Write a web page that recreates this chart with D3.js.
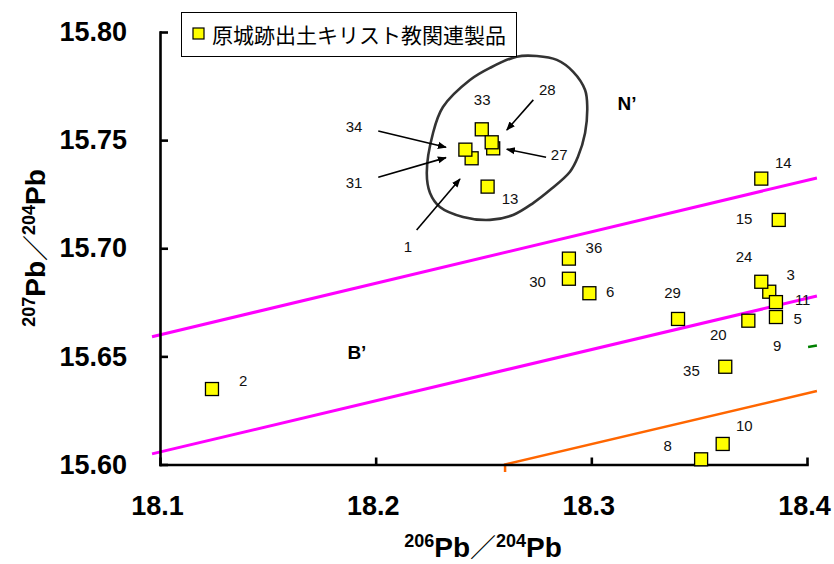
<!DOCTYPE html>
<html><head><meta charset="utf-8">
<script src="https://cdn.jsdelivr.net/npm/d3@7"></script>
<style>body{margin:0;background:#fff}svg{display:block}</style>
</head><body>
<svg id="c" width="834" height="564"></svg>
<script>
// ---- data ----
const xTicks = [18.1, 18.2, 18.3, 18.4];
const yTicks = [15.60, 15.65, 15.70, 15.75, 15.80];
const sampleIds = ["2","31","34","33","27","28","13","14","15","36","30","6","3","24","11","5","29","20","35","10","8"];
const pb206_204 = [18.1241,18.2445,18.2416,18.2492,18.2545,18.2538,18.2519,18.3788,18.3869,18.2896,18.2896,18.2991,18.3825,18.3788,18.3856,18.3856,18.3402,18.3728,18.3621,18.3609,18.3509];
const pb207_204 = [15.6349,15.7416,15.7456,15.7550,15.7462,15.7490,15.7285,15.7322,15.7131,15.6952,15.6859,15.6792,15.6799,15.6845,15.6751,15.6682,15.6673,15.6665,15.6452,15.6095,15.6024];
const legendLabel = "原城跡出土キリスト教関連製品";
// point-number labels (data coordinates)
const labelText = ["34","31","33","28","27","13","1","14","15","36","30","6","24","3","11","5","29","20","9","35","10","8","2"];
const labelX = [18.1900,18.1900,18.2494,18.2796,18.2851,18.2623,18.2150,18.3890,18.3708,18.3012,18.2751,18.3087,18.3708,18.3924,18.3980,18.3957,18.3377,18.3589,18.3862,18.3464,18.3709,18.3354,18.1386];
const labelY = [15.7562,15.7303,15.7686,15.7732,15.7431,15.7228,15.7006,15.7396,15.7138,15.7004,15.6844,15.6799,15.6961,15.6876,15.6761,15.6676,15.6794,15.6599,15.6548,15.6434,15.6178,15.6086,15.6386];
// region labels
const regionText = ["N’","B’"];
const regionX = [18.3165, 18.1913];
const regionY = [15.7672, 15.6520];
// arrows [x1,y1,x2,y2]
const arrowX1 = [18.2190,18.2012,18.2012,18.2731,18.2790];
const arrowY1 = [15.7084,15.7542,15.7328,15.7686,15.7421];
const arrowX2 = [18.2391,18.2326,18.2326,18.2608,18.2608];
const arrowY2 = [15.7320,15.7467,15.7419,15.7547,15.7458];
// N' field outline
const blobX = [18.2530,18.2654,18.2747,18.2840,18.2916,18.2971,18.2981,18.2971,18.2938,18.2901,18.2808,18.2730,18.2637,18.2530,18.2405,18.2298,18.2252,18.2237,18.2266,18.2312,18.2437];
const blobY = [15.7834,15.7886,15.7889,15.7871,15.7816,15.7732,15.7655,15.7533,15.7423,15.7354,15.7269,15.7209,15.7154,15.7131,15.7145,15.7191,15.7256,15.7348,15.7533,15.7653,15.7778];
// reference lines
const magentaUpperX = [18.0963, 18.4046], magentaUpperY = [15.6591, 15.7325];
const magentaLowerX = [18.0963, 18.4046], magentaLowerY = [15.6049, 15.6779];
const orangeX = [18.2600, 18.2600, 18.4046], orangeY = [15.5965, 15.6000, 15.6340];
const greenX = [18.4005, 18.4046], greenY = [15.6543, 15.6550];

// ---- chart ----
const svg = d3.select("#c");
const x = d3.scaleLinear().domain([18.1, 18.4]).range([160, 807]);
const y = d3.scaleLinear().domain([15.6, 15.8]).range([464.5, 32]);
const line = d3.line().x(d => x(d[0])).y(d => y(d[1]));
const zip = (a, b) => a.map((v, i) => [v, b[i]]);

// reference lines
svg.append("path").attr("d", line(zip(magentaUpperX, magentaUpperY))).attr("stroke", "#ff00ff").attr("stroke-width", 3).attr("fill", "none");
svg.append("path").attr("d", line(zip(magentaLowerX, magentaLowerY))).attr("stroke", "#ff00ff").attr("stroke-width", 3).attr("fill", "none");
svg.append("path").attr("d", line(zip(orangeX, orangeY))).attr("stroke", "#ff6600").attr("stroke-width", 2.5).attr("fill", "none");
svg.append("path").attr("d", line(zip(greenX, greenY))).attr("stroke", "#008000").attr("stroke-width", 2.5).attr("fill", "none");

// axes
const xAxis = d3.axisBottom(x).tickValues(xTicks).tickFormat(d3.format(".1f")).tickSizeInner(-7).tickSizeOuter(0).tickPadding(31);
const yAxis = d3.axisLeft(y).tickValues(yTicks).tickFormat(d3.format(".2f")).tickSizeInner(-8).tickSizeOuter(0).tickPadding(33);
const gx = svg.append("g").attr("transform", "translate(0,464.5)").call(xAxis);
const gy = svg.append("g").attr("transform", "translate(160,0)").call(yAxis);
[gx, gy].forEach(g => {
  g.select(".domain").attr("stroke", "#000").attr("stroke-width", 2.6).attr("stroke-linecap", "square");
  g.selectAll(".tick line").attr("stroke", "#000").attr("stroke-width", 2.6);
  g.selectAll(".tick text").attr("fill", "#000").style("font-family", "'Liberation Sans', Arial, sans-serif")
    .style("font-weight", "bold").style("font-size", "27px");
});
gx.selectAll(".tick text").attr("dx", -3);

// N' outline
svg.append("path").attr("d", d3.line().x(d => x(d[0])).y(d => y(d[1])).curve(d3.curveCatmullRomClosed)(zip(blobX, blobY)))
  .attr("fill", "none").attr("stroke", "#333").attr("stroke-width", 2.6);

// arrows
const defs = svg.append("defs");
defs.append("marker").attr("id", "ah").attr("viewBox", "0 0 10 10").attr("refX", 9).attr("refY", 5)
  .attr("markerWidth", 9).attr("markerHeight", 9).attr("markerUnits", "userSpaceOnUse").attr("orient", "auto")
  .append("path").attr("d", "M0,1 L10,5 L0,9 Z").attr("fill", "#000");
arrowX1.forEach((v, i) => {
  svg.append("line").attr("x1", x(v)).attr("y1", y(arrowY1[i])).attr("x2", x(arrowX2[i])).attr("y2", y(arrowY2[i]))
    .attr("stroke", "#000").attr("stroke-width", 1.6).attr("marker-end", "url(#ah)");
});

// points
svg.append("g").selectAll("rect").data(zip(pb206_204, pb207_204)).join("rect")
  .attr("x", d => x(d[0]) - 6.5).attr("y", d => y(d[1]) - 6.5).attr("width", 13).attr("height", 13)
  .attr("fill", "#ffff00").attr("stroke", "#000").attr("stroke-width", 1.3);

// point labels
svg.append("g").selectAll("text").data(labelText).join("text")
  .attr("x", (d, i) => x(labelX[i])).attr("y", (d, i) => y(labelY[i])).attr("dy", "0.36em")
  .attr("text-anchor", "middle").style("font-family", "'Liberation Sans', Arial, sans-serif").style("font-size", "15px")
  .attr("fill", "#111").text(d => d);

svg.append("g").selectAll("text").data(regionText).join("text")
  .attr("x", (d, i) => x(regionX[i])).attr("y", (d, i) => y(regionY[i])).attr("dy", "0.36em")
  .attr("text-anchor", "middle").style("font-family", "'Liberation Sans', Arial, sans-serif").style("font-size", "19px")
  .style("font-weight", "bold").attr("fill", "#000").text(d => d);

// legend
const lg = svg.append("g");
lg.append("rect").attr("x", 181.5).attr("y", 12.5).attr("width", 335).attr("height", 44).attr("fill", "#fff").attr("stroke", "#000").attr("stroke-width", 1);
lg.append("rect").attr("x", 193).attr("y", 28).attr("width", 11).attr("height", 11).attr("fill", "#ffff00").attr("stroke", "#000").attr("stroke-width", 1.2);
lg.append("text").attr("x", 212).attr("y", 42.5).style("font-family", "'Noto Sans CJK JP', sans-serif").style("font-size", "21px")
  .attr("fill", "#000").text(legendLabel);

// axis titles
function title(t) {
  const f = "'Liberation Sans', Arial, sans-serif";
  t.style("font-family", f).style("font-weight", "bold").attr("fill", "#000").attr("text-anchor", "middle");
  t.append("tspan").style("font-size", "18px").attr("dy", -10).text("206");
  t.append("tspan").style("font-size", "28px").attr("dy", 10).text("Pb");
  t.append("tspan").style("font-size", "26px").style("font-weight", "normal").style("font-family", "'Noto Sans CJK JP', sans-serif").text("／");
  t.append("tspan").style("font-size", "18px").attr("dy", -10).text("204");
  t.append("tspan").style("font-size", "28px").attr("dy", 10).text("Pb");
}
const xt = svg.append("text").attr("x", 483).attr("y", 557);
title(xt);
const yt = svg.append("text").attr("transform", "translate(45,248) rotate(-90)");
title(yt);
yt.select("tspan").text("207");
</script>
</body></html>
